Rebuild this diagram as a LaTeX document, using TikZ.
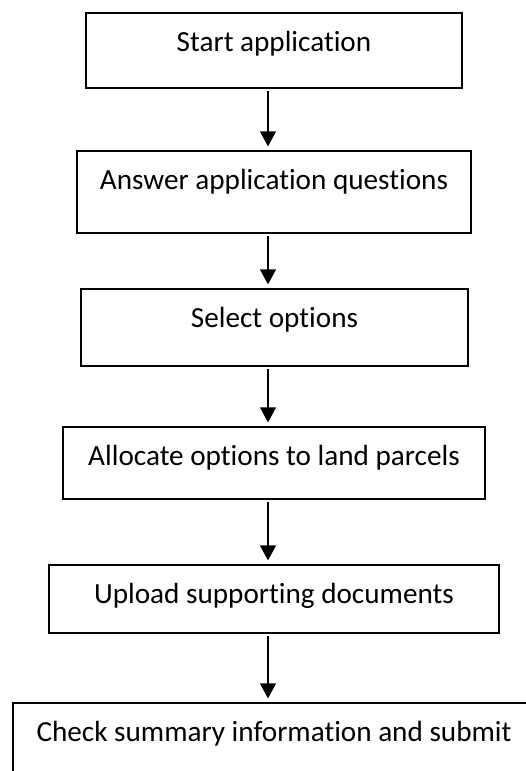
\documentclass[tikz,border=0pt]{standalone}
\usepackage{fontspec}
\setmainfont{Carlito}[Ligatures=NoCommon]
\usetikzlibrary{arrows.meta}
\begin{document}
\begin{tikzpicture}[x=1pt,y=-1pt,
  box/.style={draw, line width=1.3pt, inner sep=0pt},
  lab/.style={anchor=base, inner sep=0pt, font=\fontsize{29.2}{35}\selectfont},
  arr/.style={line width=1.3pt, -{Triangle[width=16pt,length=15pt]}, shorten <=2pt, shorten >=4pt}]
\useasboundingbox (0,0) rectangle (526,771);
\clip (0,0) rectangle (526,771);
\fill[white] (0,0) rectangle (526,771);
\coordinate (ax) at (268,0);
\node[box, minimum width=376pt, minimum height=75pt] (b1) at (274,50.5) {};
\node[box, minimum width=394pt, minimum height=82pt] (b2) at (274,192) {};
\node[box, minimum width=387pt, minimum height=77pt] (b3) at (274.5,327.5) {};
\node[box, minimum width=422pt, minimum height=72pt] (b4) at (274,463) {};
\node[box, minimum width=450pt, minimum height=68pt] (b5) at (274,599) {};
\node[box, minimum width=522pt, minimum height=87pt] (b6) at (274,746.5) {};
\node[lab] (t1) at ([yshift=-39.5pt]b1.north) {Start application};
\node[lab] (t2) at ([yshift=-39.5pt]b2.north) {Answer application questions};
\node[lab] (t3) at ([yshift=-39.5pt]b3.north) {Select options};
\node[lab] (t4) at ([yshift=-39.5pt]b4.north) {Allocate options to land parcels};
\node[lab] (t5) at ([yshift=-39.5pt]b5.north) {Upload supporting documents};
\node[lab] (t6) at ([yshift=-39.5pt]b6.north) {Check summary information and submit};
\draw[arr] (b1.south -| ax) -- (b2.north -| ax);
\draw[arr] (b2.south -| ax) -- (b3.north -| ax);
\draw[arr] (b3.south -| ax) -- (b4.north -| ax);
\draw[arr] (b4.south -| ax) -- (b5.north -| ax);
\draw[arr] (b5.south -| ax) -- (b6.north -| ax);
\end{tikzpicture}
\end{document}
